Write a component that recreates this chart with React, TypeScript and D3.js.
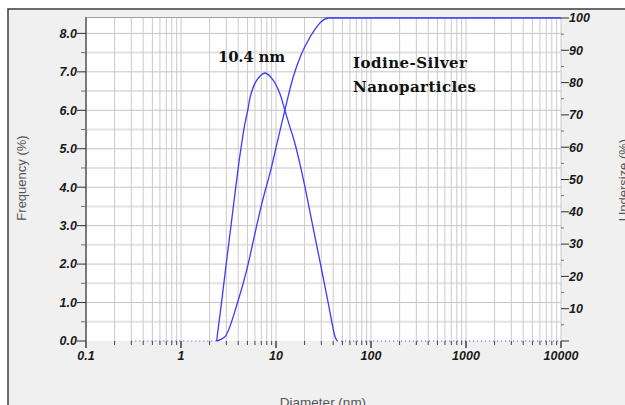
import * as d3 from "d3";

const W = 625;
const H = 405;
const PLOT = { left: 86, right: 561, top: 18, bottom: 341 };

// frequency distribution (diameter nm -> %)
const freqDiam = [2.37, 2.67, 2.99, 3.36, 3.77, 4.1, 4.35, 4.64, 5.04, 5.46, 6.26, 7.66, 9.37, 11.0, 12.4, 14.0, 15.85, 17.5, 20.2, 25.7, 30.3, 35.5, 41.9, 44];
const freqValues = [0, 1, 2, 3, 4, 4.7, 5.13, 5.57, 6.0, 6.43, 6.78, 6.97, 6.78, 6.43, 6.0, 5.57, 5.13, 4.7, 4.0, 2.71, 1.84, 0.98, 0.11, 0];

// cumulative undersize (diameter nm -> %)
const cumDiam = [2.37, 2.9, 3.92, 4.92, 5.9, 7.1, 8.8, 10.5, 12.4, 15.2, 18.3, 21.0, 25.7, 30.3, 35.5, 10000];
const cumValues = [0, 1.3, 11.7, 22, 32.3, 42.6, 52.9, 62.5, 71.5, 81.8, 88.5, 92.2, 96.5, 99.0, 100, 100];

// empty stretches drawn dotted on the baseline
const baseSegments = [[0.3, 2.37], [44, 10000]];

const xTicks = [0.1, 1, 10, 100, 1000, 10000];
const leftTicks = [0, 1, 2, 3, 4, 5, 6, 7, 8];
const rightTicks = [0, 10, 20, 30, 40, 50, 60, 70, 80, 90, 100];

const LINE = "#3a3aff";
const tickFont = { fontFamily: "'Liberation Sans', Arial, sans-serif", fontSize: 12.5, fontWeight: "bold", fontStyle: "italic" };

export default function App() {
  const x = d3.scaleLog().domain([0.1, 10000]).range([PLOT.left, PLOT.right]);
  const yL = d3.scaleLinear().domain([0, 8.4]).range([PLOT.bottom, PLOT.top]);
  const yR = d3.scaleLinear().domain([0, 100]).range([PLOT.bottom, PLOT.top]);

  // minor positions 2..9 in every decade
  const minorX: number[] = [];
  for (let e = -1; e < 4; e++) {
    for (let m = 2; m <= 9; m++) minorX.push(m * Math.pow(10, e));
  }
  const halfSteps = d3.range(0.5, 8.01, 1);
  const rightMinor = d3.range(5, 100, 10);

  const freqLine = d3
    .line<number>()
    .x((d, i) => x(freqDiam[i]))
    .y((d) => yL(d))
    .curve(d3.curveCatmullRom.alpha(0.5));
  const cumLine = d3
    .line<number>()
    .x((d, i) => x(cumDiam[i]))
    .y((d) => yR(d))
    .curve(d3.curveMonotoneX);

  return (
    <svg width={W} height={H} style={{ position: "absolute", left: 0, top: 0 }}>
      <rect width={W} height={H} fill="#ffffff" />
      <rect x={8} y={9} width={W} height={H} fill="#f0f0f0" stroke="#3c3c3c" strokeWidth={1.5} />
      <rect x={PLOT.left} y={PLOT.top} width={PLOT.right - PLOT.left} height={PLOT.bottom - PLOT.top} fill="#ffffff" />

      {/* grid */}
      {halfSteps.map((v) => (
        <line key={"hm" + v} x1={PLOT.left} x2={PLOT.right} y1={yL(v)} y2={yL(v)} stroke="#e2e2e2" strokeWidth={2} />
      ))}
      {leftTicks.slice(1).map((v) => (
        <line key={"hM" + v} x1={PLOT.left} x2={PLOT.right} y1={yL(v)} y2={yL(v)} stroke="#c4c4c4" />
      ))}
      {minorX.concat(xTicks).map((v) => (
        <line key={"v" + v} x1={x(v)} x2={x(v)} y1={PLOT.top} y2={PLOT.bottom} stroke="#cacaca" />
      ))}
      <line x1={PLOT.left} x2={PLOT.right} y1={PLOT.top - 0.5} y2={PLOT.top - 0.5} stroke="#a0a0a0" />

      {/* left axis */}
      <line x1={PLOT.left} x2={PLOT.left} y1={PLOT.top - 1} y2={PLOT.bottom} stroke="#7a7a7a" strokeWidth={2} />
      {halfSteps.map((v) => (
        <line key={"lm" + v} x1={PLOT.left - 5} x2={PLOT.left} y1={yL(v)} y2={yL(v)} stroke="#707070" />
      ))}
      {leftTicks.map((v) => (
        <g key={"l" + v}>
          <line x1={PLOT.left - 9} x2={PLOT.left} y1={yL(v)} y2={yL(v)} stroke="#303030" />
          <text x={PLOT.left - 9} y={yL(v)} dy="0.35em" textAnchor="end" {...tickFont} fill="#1a1a1a">
            {v.toFixed(1)}
          </text>
        </g>
      ))}

      {/* right axis */}
      {rightMinor.map((v) => (
        <line key={"rm" + v} x1={PLOT.right} x2={PLOT.right + 3} y1={yR(v)} y2={yR(v)} stroke="#707070" />
      ))}
      {rightTicks.map((v) => (
        <g key={"r" + v}>
          <line x1={PLOT.right} x2={PLOT.right + 8} y1={yR(v)} y2={yR(v)} stroke="#303030" />
          {v > 0 && (
            <text x={PLOT.right + 8} y={yR(v)} dy="0.35em" textAnchor="start" {...tickFont} fill="#1a1a1a">
              {v}
            </text>
          )}
        </g>
      ))}

      {/* bottom axis */}
      {minorX.map((v) => (
        <line key={"bm" + v} x1={x(v)} x2={x(v)} y1={PLOT.bottom} y2={PLOT.bottom + 4} stroke="#404040" />
      ))}
      {xTicks.map((v) => (
        <g key={"b" + v}>
          <line x1={x(v)} x2={x(v)} y1={PLOT.bottom} y2={PLOT.bottom + 7} stroke="#404040" strokeWidth={1.5} />
          <text x={x(v)} y={PLOT.bottom + 19} textAnchor="middle" {...tickFont} fill="#1a1a1a">
            {v}
          </text>
        </g>
      ))}

      {/* data */}
      {baseSegments.map(([a, b]) => (
        <line key={"d" + a} x1={x(a)} x2={x(b)} y1={PLOT.bottom} y2={PLOT.bottom} stroke={LINE} strokeDasharray="1,3" />
      ))}
      <path d={freqLine(freqValues) || ""} fill="none" stroke={LINE} strokeWidth={1.3} />
      <path d={cumLine(cumValues) || ""} fill="none" stroke={LINE} strokeWidth={1.3} />

      {/* annotations */}
      <text x={218} y={62} fontFamily="'DejaVu Serif', serif" fontWeight="bold" fontSize={15} fill="#111" textLength={67}>
        10.4 nm
      </text>
      <text x={353} y={68} fontFamily="'DejaVu Serif', serif" fontWeight="bold" fontSize={15} fill="#111" textLength={114}>
        Iodine-Silver
      </text>
      <text x={353} y={92} fontFamily="'DejaVu Serif', serif" fontWeight="bold" fontSize={15} fill="#111" textLength={123}>
        Nanoparticles
      </text>

      {/* axis titles */}
      <text transform="translate(26,178) rotate(-90)" textAnchor="middle" fontFamily="'Liberation Sans', Arial, sans-serif" fontSize={13} fill="#555">
        Frequency (%)
      </text>
      <text transform="translate(628,180) rotate(-90)" textAnchor="middle" fontFamily="'Liberation Sans', Arial, sans-serif" fontSize={13} fill="#555">
        Undersize (%)
      </text>
      <text x={323} y={407} textAnchor="middle" fontFamily="'Liberation Sans', Arial, sans-serif" fontSize={13.5} fill="#555">
        Diameter (nm)
      </text>
    </svg>
  );
}
